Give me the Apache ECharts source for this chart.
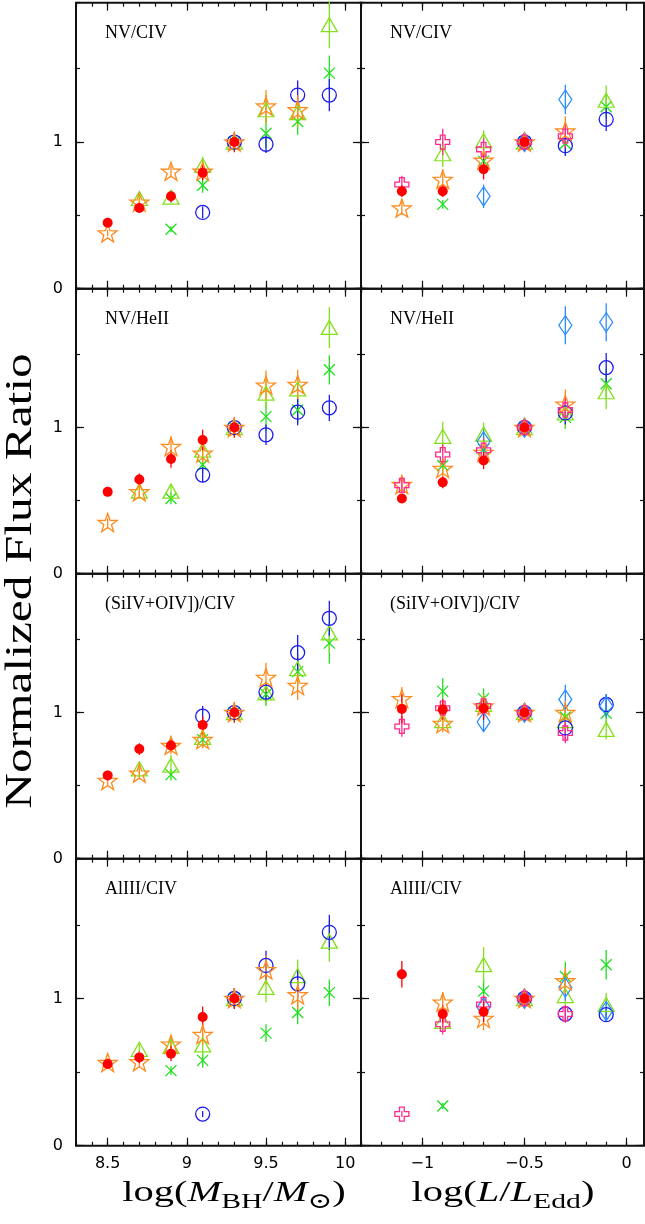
<!DOCTYPE html>
<html>
<head>
<meta charset="utf-8">
<script src="https://cdn.jsdelivr.net/npm/echarts@6/dist/echarts.min.js"></script>
<style>
html, body { margin: 0; padding: 0; background: #fff; }
#chart { width: 645px; height: 1224px; }
</style>
</head>
<body>
<div id="chart"></div>
<script>
var N = null;

// x positions of the bins
var xMass = [8.5, 8.7, 8.9, 9.1, 9.3, 9.5, 9.7, 9.9];
var xEdd = [-1.1, -0.9, -0.7, -0.5, -0.3, -0.1];

// tick labels
var massTicks = [8.5, 9, 9.5, 10];
var eddTicks = [-1, -0.5, 0];
var ratioTicks = [0, 1];

var panelNames = ['NV/CIV', 'NV/HeII', '(SiIV+OIV])/CIV', 'AlIII/CIV'];

// rows: red dot, star, triangle, x, open circle, (plus, diamond for the L/LEdd panels)
var nvCivMassY = [
  [0.45, 0.55, 0.63, 0.79, 1.0, N, N, N],
  [0.38, 0.59, 0.80, 0.80, 1.0, 1.245, 1.22, N],
  [N, 0.615, 0.625, 0.84, 1.0, 1.22, 1.20, 1.80],
  [N, N, 0.405, 0.705, 1.0, 1.06, 1.14, 1.47],
  [N, N, N, 0.52, 1.0, 0.985, 1.32, 1.32]
];
var nvCivMassErr = [
  [0.02, 0.03, 0.04, 0.05, 0.07, N, N, N],
  [0.02, 0.03, 0.04, 0.05, 0.06, 0.11, 0.10, N],
  [N, 0.04, 0.04, 0.06, 0.05, 0.10, 0.10, 0.16],
  [N, N, 0.02, 0.05, 0.05, 0.10, 0.09, 0.12],
  [N, N, N, 0.04, 0.05, 0.06, 0.10, 0.11]
];

var nvCivEddY = [
  [0.665, 0.665, 0.815, 1.0, N, N],
  [0.55, 0.745, 0.875, 1.0, 1.075, N],
  [N, 0.92, 1.01, 1.0, N, 1.285],
  [N, 0.575, 0.87, 1.0, 0.99, 1.24],
  [N, N, N, 1.0, 0.975, 1.155],
  [0.71, 1.0, 0.95, 1.0, 1.04, N],
  [N, N, 0.63, 1.0, 1.29, N]
];
var nvCivEddErr = [
  [0.04, 0.04, 0.07, 0.06, N, N],
  [0.05, 0.07, 0.06, 0.06, 0.10, N],
  [N, 0.09, 0.07, 0.05, N, 0.10],
  [N, 0.03, 0.05, 0.05, 0.08, 0.08],
  [N, N, N, 0.05, 0.07, 0.08],
  [0.06, 0.09, 0.08, 0.05, 0.08, N],
  [N, N, 0.08, 0.05, 0.10, N]
];

var nvHeiiMassY = [
  [0.56, 0.645, 0.785, 0.915, 1.0, N, N, N],
  [0.35, 0.56, 0.87, 0.825, 1.0, 1.29, 1.295, N],
  [N, 0.565, 0.565, 0.845, 1.0, 1.235, 1.265, 1.685],
  [N, N, 0.515, 0.745, 1.0, 1.075, 1.12, 1.395],
  [N, N, N, 0.675, 1.0, 0.95, 1.105, 1.135]
];
var nvHeiiMassErr = [
  [0.03, 0.04, 0.06, 0.07, 0.07, N, N, N],
  [0.03, 0.04, 0.07, 0.07, 0.06, 0.10, 0.10, N],
  [N, 0.04, 0.05, 0.06, 0.05, 0.10, 0.09, 0.14],
  [N, N, 0.04, 0.06, 0.05, 0.10, 0.09, 0.10],
  [N, N, N, 0.05, 0.05, 0.07, 0.09, 0.09]
];

var nvHeiiEddY = [
  [0.515, 0.625, 0.775, 1.0, N, N],
  [0.61, 0.72, 0.83, 1.0, 1.16, N],
  [N, 0.94, 0.955, 1.0, 1.10, 1.245],
  [N, 0.74, 0.85, 1.0, 1.07, 1.30],
  [N, N, N, 1.0, 1.10, 1.41],
  [0.605, 0.815, 0.845, 1.0, 1.12, N],
  [N, N, 0.905, 1.0, 1.70, 1.72]
];
var nvHeiiEddErr = [
  [0.03, 0.04, 0.06, 0.06, N, N],
  [0.04, 0.06, 0.07, 0.06, 0.10, N],
  [N, 0.10, 0.08, 0.05, 0.10, 0.12],
  [N, 0.05, 0.06, 0.05, 0.08, 0.10],
  [N, N, N, 0.05, 0.08, 0.10],
  [0.05, 0.07, 0.08, 0.05, 0.08, N],
  [N, N, 0.08, 0.05, 0.13, 0.13]
];

var siivCivMassY = [
  [0.57, 0.75, 0.775, 0.915, 1.0, N, N, N],
  [0.535, 0.585, 0.775, 0.815, 1.0, 1.24, 1.185, N],
  [N, 0.615, 0.64, 0.83, 1.0, 1.135, 1.30, 1.545],
  [N, N, 0.575, 0.815, 1.0, 1.125, 1.28, 1.475],
  [N, N, N, 0.975, 1.0, 1.14, 1.41, 1.645]
];
var siivCivMassErr = [
  [0.03, 0.04, 0.04, 0.06, 0.07, N, N, N],
  [0.03, 0.04, 0.06, 0.06, 0.06, 0.10, 0.10, N],
  [N, 0.04, 0.07, 0.07, 0.05, 0.08, 0.10, 0.14],
  [N, N, 0.04, 0.05, 0.05, 0.08, 0.10, 0.14],
  [N, N, N, 0.07, 0.05, 0.06, 0.12, 0.12]
];

var siivCivEddY = [
  [1.025, 1.02, 1.03, 1.0, N, N],
  [1.095, 0.925, 1.045, 1.0, 1.0, N],
  [N, 0.945, 1.055, 1.0, 0.945, 0.885],
  [N, 1.145, 1.095, 1.0, 0.97, 0.995],
  [N, N, N, 1.0, 0.895, 1.055],
  [0.905, 1.03, 1.045, 1.0, 0.86, N],
  [N, N, 0.935, 1.0, 1.09, 1.045]
];
var siivCivEddErr = [
  [0.10, 0.07, 0.08, 0.06, N, N],
  [0.08, 0.06, 0.07, 0.05, 0.08, N],
  [N, 0.05, 0.07, 0.05, 0.09, 0.07],
  [N, 0.09, 0.07, 0.05, 0.08, 0.07],
  [N, N, N, 0.05, 0.08, 0.07],
  [0.07, 0.06, 0.07, 0.05, 0.07, N],
  [N, N, 0.06, 0.05, 0.10, 0.08]
];

var aliiiCivMassY = [
  [0.555, 0.60, 0.625, 0.875, 1.0, N, N, N],
  [0.565, 0.57, 0.69, 0.755, 1.0, 1.195, 1.025, N],
  [N, 0.655, 0.675, 0.685, 1.0, 1.075, 1.155, 1.39],
  [N, N, 0.51, 0.58, 1.0, 0.765, 0.905, 1.04],
  [N, N, N, 0.215, 1.0, 1.225, 1.10, 1.45]
];
var aliiiCivMassErr = [
  [0.03, 0.04, 0.05, 0.07, 0.07, N, N, N],
  [0.03, 0.04, 0.06, 0.07, 0.06, 0.10, 0.10, N],
  [N, 0.04, 0.06, 0.08, 0.05, 0.10, 0.11, 0.14],
  [N, N, 0.03, 0.05, 0.05, 0.06, 0.08, 0.09],
  [N, N, N, 0.02, 0.07, 0.10, 0.10, 0.12]
];

var aliiiCivEddY = [
  [1.165, 0.895, 0.91, 1.0, N, N],
  [N, 0.975, 0.865, 1.0, 1.12, N],
  [N, 0.845, 1.23, 1.0, 1.02, 0.96],
  [N, 0.27, 1.05, 1.0, 1.15, 1.23],
  [N, N, N, 1.0, 0.895, 0.89],
  [0.215, 0.825, 0.96, 1.0, 0.895, N],
  [N, N, 0.94, 1.0, 1.075, 0.915]
];
var aliiiCivEddErr = [
  [0.09, 0.06, 0.07, 0.07, N, N],
  [N, 0.07, 0.08, 0.06, 0.09, N],
  [N, 0.06, 0.12, 0.05, 0.09, 0.08],
  [N, 0.02, 0.08, 0.05, 0.10, 0.10],
  [N, N, N, 0.05, 0.04, 0.05],
  [0.02, 0.07, 0.06, 0.05, 0.06, N],
  [N, N, 0.06, 0.05, 0.09, 0.07]
];

var panels = [
  {label: panelNames[0], row: 0, col: 0, y: nvCivMassY, err: nvCivMassErr},
  {label: panelNames[0], row: 0, col: 1, y: nvCivEddY, err: nvCivEddErr},
  {label: panelNames[1], row: 1, col: 0, y: nvHeiiMassY, err: nvHeiiMassErr},
  {label: panelNames[1], row: 1, col: 1, y: nvHeiiEddY, err: nvHeiiEddErr},
  {label: panelNames[2], row: 2, col: 0, y: siivCivMassY, err: siivCivMassErr},
  {label: panelNames[2], row: 2, col: 1, y: siivCivEddY, err: siivCivEddErr},
  {label: panelNames[3], row: 3, col: 0, y: aliiiCivMassY, err: aliiiCivMassErr},
  {label: panelNames[3], row: 3, col: 1, y: aliiiCivEddY, err: aliiiCivEddErr}
];

// layout of the frames
var colLeft = [76, 361];
var colWidth = [285, 283];
var rowTop = [2.7, 288.7, 573.7, 858.7];
var rowHeight = [286, 285, 285, 287];
var frameColor = '#111';

function starPath() {
  var s = 'path://';
  for (var i = 0; i < 10; i++) {
    var a = (-90 + i * 36) * Math.PI / 180;
    var r = i % 2 ? 20 : 50;
    s += (i ? 'L' : 'M') + (50 + r * Math.cos(a)).toFixed(2) + ' ' + (50 + r * Math.sin(a)).toFixed(2);
  }
  return s + 'Z';
}

var markKeys = ['red', 'star', 'tri', 'x', 'blue', 'plus', 'diam'];
var drawOrder = ['x', 'tri', 'blue', 'diam', 'star', 'plus', 'red'];
var marks = {
  red:  {symbol: 'circle', size: 10, color: '#ff0000', fill: true},
  star: {symbol: starPath(), size: 19, color: '#ff8a1c'},
  tri:  {symbol: 'triangle', size: [16, 14], color: '#84e01e'},
  x:    {symbol: 'path://M0 0L10 10M10 0L0 10', size: 11, color: '#1ee01e'},
  blue: {symbol: 'circle', size: 14, color: '#1c1cf0'},
  plus: {symbol: 'path://M3.3 0H6.7V3.3H10V6.7H6.7V10H3.3V6.7H0V3.3H3.3Z', size: 14, color: '#ff2a8c'},
  diam: {symbol: 'diamond', size: [13, 19], color: '#2a8cff'}
};

function fmtX(v) {
  var r = Math.round(v * 10) / 10;
  return r < 0 ? '\u2212' + Math.abs(r) : String(r);
}

function tickStyle(len, custom) {
  var t = {show: true, inside: true, length: len, lineStyle: {color: frameColor, width: 1.2}};
  if (custom) t.customValues = custom;
  return t;
}

function xAxesFor(g, col, showLabel) {
  var min = col === 0 ? 8.3 : -1.3;
  var max = col === 0 ? 10.1 : 0.085;
  var ticks = col === 0 ? massTicks : eddTicks;
  var out = [];
  ['bottom', 'top'].forEach(function (pos) {
    out.push({
      type: 'value', gridIndex: g, position: pos, min: min, max: max, interval: 0.1,
      axisLine: {show: false, onZero: false}, axisTick: tickStyle(4),
      axisLabel: {show: false}, splitLine: {show: false}
    });
    out.push({
      type: 'value', gridIndex: g, position: pos, min: min, max: max,
      axisLine: {show: false, onZero: false}, axisTick: tickStyle(8, ticks),
      axisLabel: {
        show: showLabel && pos === 'bottom', customValues: ticks, formatter: fmtX,
        fontFamily: 'DejaVu Sans', fontSize: 16, color: '#000', margin: 10
      },
      splitLine: {show: false}
    });
  });
  return out;
}

function yAxesFor(g, showLabel) {
  var out = [];
  ['left', 'right'].forEach(function (pos) {
    out.push({
      type: 'value', gridIndex: g, position: pos, min: 0, max: 1.95, interval: 0.5,
      axisLine: {show: false, onZero: false}, axisTick: tickStyle(4),
      axisLabel: {show: false}, splitLine: {show: false}
    });
    out.push({
      type: 'value', gridIndex: g, position: pos, min: 0, max: 1.95,
      axisLine: {show: false, onZero: false}, axisTick: tickStyle(8, ratioTicks),
      axisLabel: {
        show: showLabel && pos === 'left', customValues: ratioTicks,
        fontFamily: 'DejaVu Sans', fontSize: 16, color: '#000', margin: 13
      },
      splitLine: {show: false}
    });
  });
  return out;
}

function errRender(color) {
  return function (params, api) {
    var x = api.value(0), y = api.value(1), e = api.value(2);
    var a = api.coord([x, y - e]);
    var b = api.coord([x, y + e]);
    return {
      type: 'line',
      shape: {x1: a[0], y1: a[1], x2: b[0], y2: b[1]},
      style: {stroke: color, lineWidth: 1.3}
    };
  };
}

var grids = [], xAxes = [], yAxes = [], errSeries = [], dotSeries = [], texts = [];

panels.forEach(function (p, g) {
  grids.push({
    left: colLeft[p.col], top: rowTop[p.row], width: colWidth[p.col], height: rowHeight[p.row],
    show: true, borderColor: frameColor, borderWidth: 2, backgroundColor: 'transparent',
    outerBoundsMode: 'none'
  });
  xAxes = xAxes.concat(xAxesFor(g, p.col, p.row === 3));
  yAxes = yAxes.concat(yAxesFor(g, p.col === 0));

  var xs = p.col === 0 ? xMass : xEdd;
  drawOrder.forEach(function (key) {
    var k = markKeys.indexOf(key);
    if (k >= p.y.length) return;
    var m = marks[key];
    var pts = [], errs = [];
    xs.forEach(function (x, i) {
      var v = p.y[k][i];
      if (v == null) return;
      pts.push([x, v]);
      if (p.err[k][i] != null) errs.push([x, v, p.err[k][i]]);
    });
    errSeries.push({
      type: 'custom', xAxisIndex: g * 4, yAxisIndex: g * 4, silent: true,
      renderItem: errRender(m.color), data: errs, z: 2
    });
    dotSeries.push({
      type: 'scatter', xAxisIndex: g * 4, yAxisIndex: g * 4, silent: true,
      symbol: m.symbol, symbolSize: m.size, symbolKeepAspect: key === 'star',
      itemStyle: m.fill ? {color: m.color, opacity: 1} :
        {color: 'rgba(0,0,0,0)', borderColor: m.color, borderWidth: 1.3, opacity: 1},
      emphasis: {disabled: true}, data: pts, z: 3
    });
  });

  texts.push({
    type: 'text', x: colLeft[p.col] + 29, y: rowTop[p.row] + 31,
    style: {text: p.label, font: '18px "Liberation Serif"', fill: '#000', align: 'left', verticalAlign: 'middle'}
  });
});

var serif = '"Liberation Serif", "DejaVu Serif"';
var richX = {
  a: {fontFamily: serif, fontSize: 30, color: '#000'},
  i: {fontFamily: serif, fontSize: 30, fontStyle: 'italic', color: '#000'},
  s: {fontFamily: serif, fontSize: 22, color: '#000', padding: [19, 0, 0, 0]}
};

texts.push({
  type: 'text', x: 21, y: 581, rotation: Math.PI / 2, scaleX: 1.3,
  style: {text: 'Normalized Flux Ratio', font: '38px "Liberation Serif"', fill: '#000', align: 'center', verticalAlign: 'middle'}
});
texts.push({
  type: 'text', x: 234, y: 1193, scaleX: 1.35,
  style: {text: '{a|log(}{i|M}{s|BH}{a|/}{i|M}{s|\u2299}{a|)}', rich: richX, align: 'center', verticalAlign: 'middle'}
});
texts.push({
  type: 'text', x: 503, y: 1193, scaleX: 1.35,
  style: {text: '{a|log(}{i|L}{a|/}{i|L}{s|Edd}{a|)}', rich: richX, align: 'center', verticalAlign: 'middle'}
});

var chart = echarts.init(document.getElementById('chart'), null, {renderer: 'canvas'});
chart.setOption({
  animation: false,
  backgroundColor: '#fff',
  grid: grids,
  xAxis: xAxes,
  yAxis: yAxes,
  series: errSeries.concat(dotSeries),
  graphic: texts
});
</script>
</body>
</html>
